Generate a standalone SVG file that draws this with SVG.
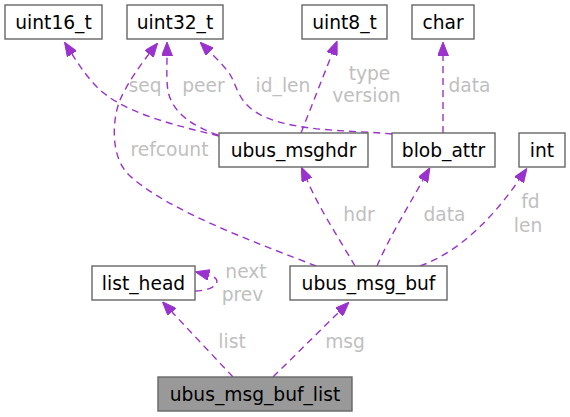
<svg xmlns="http://www.w3.org/2000/svg" width="570" height="417" viewBox="0 0 570 417">
<style>
.node rect{fill:#ffffff;stroke:#666666;stroke-width:1.4}
.node.root rect{fill:#999999}
.node text{font-family:"DejaVu Sans",sans-serif;font-size:18.67px;fill:#000000;text-anchor:middle}
.edges path{fill:none;stroke:#9a32cd;stroke-width:1.4;stroke-dasharray:7,5;marker-end:url(#arr)}
.lbl{font-family:"DejaVu Sans",sans-serif;font-size:18.67px;fill:#bfbfbf;text-anchor:middle}
</style>
<defs>
<marker id="arr" markerUnits="userSpaceOnUse" viewBox="0 0 14 11" refX="0" refY="5.5" markerWidth="14" markerHeight="11" orient="auto">
<path d="M0,0 L14,5.5 L0,11 Z" fill="#9a32cd" stroke="#9a32cd" stroke-width="1"/>
</marker>
</defs>
<rect width="570" height="417" fill="#ffffff"/>
<g class="edges">
<path d="M233,377 L172,312"/>
<path d="M273,377 L339,312"/>
<path d="M195,291 C220,290 222,278 209,275"/>
<path d="M355,266 C340,240 320,210 307,180"/>
<path d="M377,266 C388,240 405,212 423,180"/>
<path d="M420,266 C460,252 495,215 519,180"/>
<path d="M316,266 C260,244 170,212 130,176 C110,158 112,120 120,100 C126,86 138,68 149,54"/>
<path d="M219,136 C170,124 120,112 95,85 C85,74 79,65 72,54"/>
<path d="M218,135 C195,127 175,115 169,95 C166,85 167,70 167,56"/>
<path d="M392,134 C350,130 300,132 265,117 C240,106 238,90 232,78 C228,70 218,60 210,52"/>
<path d="M301,133 L332,54"/>
<path d="M443,133 L443,56"/>
</g>
<g class="labels">
<text class="lbl" x="232" y="348">list</text>
<text class="lbl" x="345" y="348">msg</text>
<text class="lbl" x="246" y="278">next</text>
<text class="lbl" x="242.5" y="301">prev</text>
<text class="lbl" x="359" y="221">hdr</text>
<text class="lbl" x="444.5" y="221">data</text>
<text class="lbl" x="530.5" y="208">fd</text>
<text class="lbl" x="528" y="232">len</text>
<text class="lbl" x="169.5" y="156">refcount</text>
<text class="lbl" x="145" y="92">seq</text>
<text class="lbl" x="203.5" y="92">peer</text>
<text class="lbl" x="283" y="92">id_len</text>
<text class="lbl" x="369.5" y="80">type</text>
<text class="lbl" x="366.5" y="102">version</text>
<text class="lbl" x="469.5" y="92">data</text>
</g>
<g id="node_uint16_t" class="node"><rect x="5" y="5" width="97" height="34"/><text x="53.5" y="28.5">uint16_t</text></g>
<g id="node_uint32_t" class="node"><rect x="127" y="5" width="96" height="34"/><text x="175" y="28.5">uint32_t</text></g>
<g id="node_uint8_t" class="node"><rect x="302" y="5" width="85" height="34"/><text x="344.5" y="28.5">uint8_t</text></g>
<g id="node_char" class="node"><rect x="412" y="5" width="62" height="34"/><text x="443" y="28.5">char</text></g>
<g id="node_ubus_msghdr" class="node"><rect x="219" y="133" width="149" height="34"/><text x="293.5" y="156.5">ubus_msghdr</text></g>
<g id="node_blob_attr" class="node"><rect x="392" y="133" width="103" height="34"/><text x="443.5" y="156.5">blob_attr</text></g>
<g id="node_int" class="node"><rect x="519" y="133" width="46" height="34"/><text x="542" y="156.5">int</text></g>
<g id="node_list_head" class="node"><rect x="92" y="266" width="103" height="34"/><text x="143.5" y="289.5">list_head</text></g>
<g id="node_ubus_msg_buf" class="node"><rect x="290" y="266" width="157" height="34"/><text x="368.5" y="289.5">ubus_msg_buf</text></g>
<g id="node_ubus_msg_buf_list" class="node root"><rect x="158" y="377" width="194" height="34"/><text x="255" y="400.5">ubus_msg_buf_list</text></g>
</svg>
